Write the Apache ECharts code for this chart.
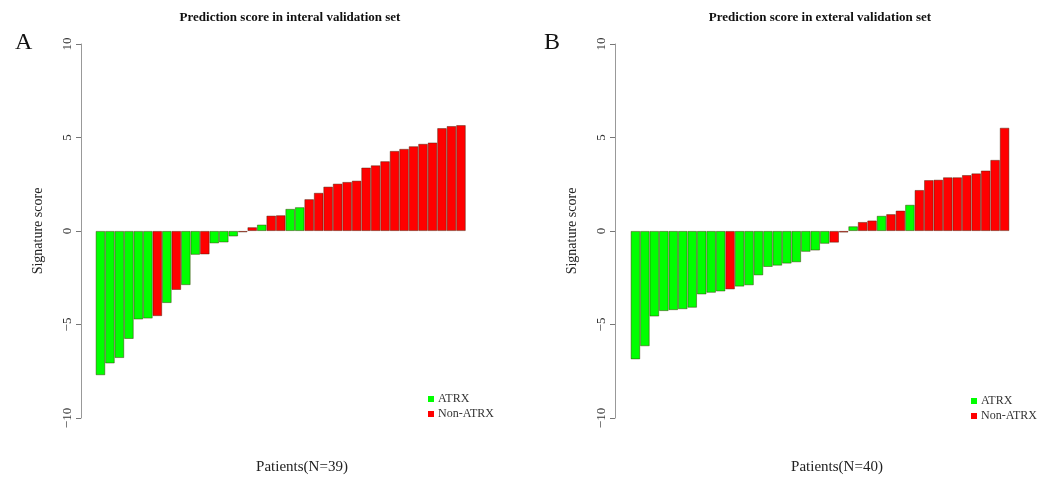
<!DOCTYPE html>
<html>
<head>
<meta charset="utf-8">
<script src="https://cdn.jsdelivr.net/npm/echarts@6/dist/echarts.min.js"></script>
<style>html,body{margin:0;padding:0;background:#fff}#c{width:1049px;height:480px}</style>
</head>
<body>
<div id="c"></div>
<script>
// Internal validation set (N=39), sorted scores; group A = ATRX, N = Non-ATRX
var leftScores = [-7.71,-7.08,-6.79,-5.77,-4.73,-4.68,-4.55,-3.85,-3.15,-2.89,-1.27,-1.25,-0.66,-0.61,-0.29,-0.07,0.20,0.34,0.82,0.84,1.18,1.27,1.70,2.04,2.37,2.53,2.62,2.69,3.39,3.51,3.73,4.28,4.39,4.53,4.66,4.73,5.50,5.61,5.66];
var leftGroups = ['A','A','A','A','A','A','N','A','N','A','A','N','A','A','A','N','N','A','N','N','A','A','N','N','N','N','N','N','N','N','N','N','N','N','N','N','N','N','N'];
// External validation set (N=40)
var rightScores = [-6.86,-6.16,-4.57,-4.28,-4.23,-4.18,-4.10,-3.39,-3.30,-3.23,-3.12,-2.97,-2.90,-2.37,-1.92,-1.85,-1.74,-1.67,-1.11,-1.04,-0.68,-0.62,-0.08,0.25,0.48,0.56,0.81,0.90,1.09,1.40,2.19,2.72,2.74,2.87,2.87,2.99,3.08,3.23,3.80,5.52];
var rightGroups = ['A','A','A','A','A','A','A','A','A','A','N','A','A','A','A','A','A','A','A','A','A','N','N','A','N','N','A','N','N','A','N','N','N','N','N','N','N','N','N','N'];
var yTicks = [-10,-5,0,5,10];
var groupNames = {A:'ATRX', N:'Non-ATRX'};
var groupColors = {A:'#00FF00', N:'#FF0000'};

var serif = 'Liberation Serif';
function cats(n){var a=[];for(var i=0;i<n;i++)a.push(String(i+1));return a;}
function pick(scores, groups, g){return scores.map(function(v,i){return groups[i]===g?v:'-';});}

function yAxisFor(gi, off){
  return {
    gridIndex: gi, type:'value', min: yTicks[0], max: yTicks[yTicks.length-1], interval: 5,
    offset: off,
    name: 'Signature score', nameLocation:'middle', nameGap: 36, nameRotate: 90,
    nameTextStyle:{fontFamily:serif, fontSize:14, color:'#222'},
    axisLine:{show:true, lineStyle:{color:'#999', width:1}},
    axisTick:{show:true, length:5, lineStyle:{color:'#777'}},
    axisLabel:{rotate:90, fontFamily:serif, fontSize:13, color:'#333', margin:7,
      formatter:function(v){return String(v).replace('-','\u2212');}},
    splitLine:{show:false}
  };
}
function barSeries(name, gi, data, color){
  return {
    name:name, type:'bar', xAxisIndex:gi, yAxisIndex:gi, data:data,
    barWidth:'100%', barGap:'-100%', animation:false,
    itemStyle:{color:color, borderColor:'rgba(60,30,0,0.55)', borderWidth:0.8}
  };
}
function legendAt(left, top){
  return {left:left, top:top, orient:'vertical', itemWidth:6, itemHeight:6, itemGap:3, icon:'rect',
    itemStyle:{borderWidth:0},
    data:[groupNames.A, groupNames.N],
    textStyle:{fontFamily:serif, fontSize:12, color:'#333', padding:[0,0,0,-1]}};
}

var chart = echarts.init(document.getElementById('c'));
chart.setOption({
  backgroundColor:'#fff',
  animation:false,
  title:[
    {text:'Prediction score in interal validation set', left:285, top:6, textAlign:'center',
      textStyle:{fontFamily:serif, fontSize:13, fontWeight:'bold', color:'#111'}},
    {text:'Prediction score in exteral validation set', left:815, top:6, textAlign:'center',
      textStyle:{fontFamily:serif, fontSize:13, fontWeight:'bold', color:'#111'}},
    {text:'A', left:10, top:26, textStyle:{fontFamily:serif, fontSize:24, fontWeight:'normal', color:'#111'}},
    {text:'B', left:539, top:26, textStyle:{fontFamily:serif, fontSize:24, fontWeight:'normal', color:'#111'}},
    {text:'Patients(N=39)', left:297, top:455, textAlign:'center',
      textStyle:{fontFamily:serif, fontSize:15, fontWeight:'normal', color:'#222'}},
    {text:'Patients(N=40)', left:832, top:455, textAlign:'center',
      textStyle:{fontFamily:serif, fontSize:15, fontWeight:'normal', color:'#222'}}
  ],
  legend:[legendAt(423, 388), legendAt(966, 390)],
  grid:[
    {left:95.7, width:370, top:44, height:374},
    {left:630.7, width:378.6, top:44, height:374}
  ],
  xAxis:[
    {gridIndex:0, type:'category', data:cats(leftScores.length), show:false, boundaryGap:true},
    {gridIndex:1, type:'category', data:cats(rightScores.length), show:false, boundaryGap:true}
  ],
  yAxis:[yAxisFor(0, 14.7), yAxisFor(1, 15.7)],
  series:[
    barSeries(groupNames.A, 0, pick(leftScores, leftGroups, 'A'), groupColors.A),
    barSeries(groupNames.N, 0, pick(leftScores, leftGroups, 'N'), groupColors.N),
    barSeries(groupNames.A, 1, pick(rightScores, rightGroups, 'A'), groupColors.A),
    barSeries(groupNames.N, 1, pick(rightScores, rightGroups, 'N'), groupColors.N)
  ]
});
</script>
</body>
</html>
